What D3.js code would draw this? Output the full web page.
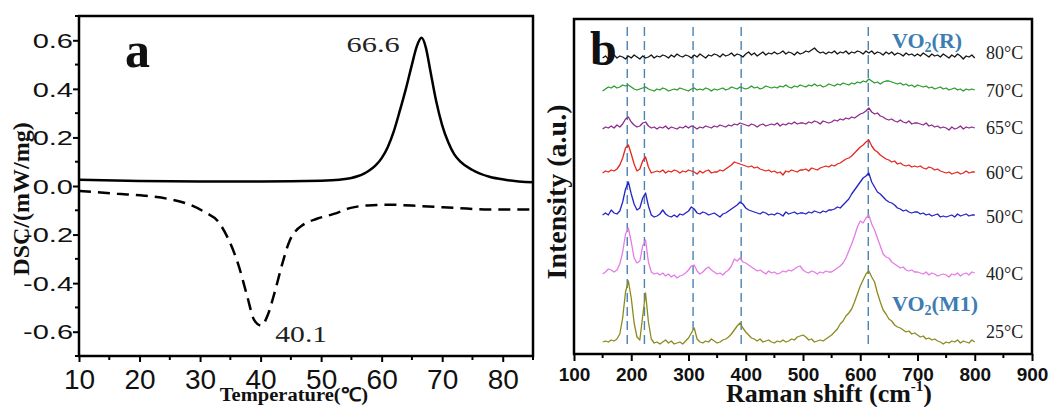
<!DOCTYPE html>
<html>
<head>
<meta charset="utf-8">
<script src="https://cdn.jsdelivr.net/npm/d3@7"></script>
<style>
  html, body { margin: 0; padding: 0; background: #fff; }
  svg { display: block; }
</style>
</head>
<body>
<div id="chart"></div>
<script>
// ---------- (a) DSC curves ----------
const heatingTemp = [10, 20, 30, 40, 50, 53, 55, 56, 57, 58, 59, 60, 61, 62, 63, 64, 65, 65.8, 66.6, 67.3, 68, 69, 70, 71, 72, 73, 75, 77.8, 80.6, 85];
const heatingDSC  = [0.026, 0.021, 0.019, 0.019, 0.022, 0.026, 0.033, 0.04, 0.05, 0.065, 0.085, 0.115, 0.16, 0.225, 0.31, 0.40, 0.50, 0.575, 0.61, 0.57, 0.48, 0.35, 0.25, 0.18, 0.13, 0.10, 0.066, 0.038, 0.025, 0.015];
const coolingTemp = [10, 16.3, 20.8, 24.7, 28, 30.8, 33.1, 34.7, 36.4, 37.8, 38.9, 40.1, 41.2, 42.3, 43.7, 44.8, 45.8, 47, 49.3, 52.1, 54.9, 57.7, 61, 66.6, 72.2, 77.8, 85];
const coolingDSC  = [-0.02, -0.032, -0.04, -0.053, -0.074, -0.108, -0.15, -0.22, -0.33, -0.455, -0.55, -0.575, -0.53, -0.44, -0.31, -0.225, -0.185, -0.16, -0.135, -0.115, -0.09, -0.08, -0.077, -0.083, -0.09, -0.097, -0.097];
const heatingPeak = { t: 66.6, v: 0.61 };
const coolingPeak = { t: 40.1, v: -0.575 };
const tempTicks = [10, 20, 30, 40, 50, 60, 70, 80];
const tempMinorTicks = [15, 25, 35, 45, 55, 65, 75, 85];
const dscTicks = [-0.6, -0.4, -0.2, 0.0, 0.2, 0.4, 0.6];
const dscMinorTicks = [-0.7, -0.5, -0.3, -0.1, 0.1, 0.3, 0.5, 0.7];

// ---------- (b) Raman spectra (stacked, a.u.), sampled every 5 cm-1 from 150 to 800 ----------
const ramanShift = d3.range(150, 801, 5);
const spectrum25 = [
  12, 13, 12, 14, 13, 15, 20, 36, 62, 73,
  56, 31, 17, 14, 38, 61, 32, 15, 11, 12,
  10, 12, 14, 11, 13, 10, 11, 12, 10, 13,
  16, 21, 26, 15, 12, 11, 13, 12, 15, 13,
  11, 12, 14, 15, 17, 20, 24, 28, 31, 26,
  22, 19, 16, 15, 13, 15, 12, 13, 14, 12,
  11, 13, 12, 14, 12, 13, 15, 14, 17, 18,
  19, 17, 14, 15, 12, 13, 14, 13, 15, 17,
  19, 22, 25, 30, 33, 38, 41, 45, 52, 60,
  68, 74, 80, 83, 77, 72, 61, 52, 44, 40,
  35, 33, 29, 27, 26, 24, 22, 23, 20, 21,
  19, 17, 18, 15, 16, 14, 15, 13, 12, 10,
  12, 11, 13, 12, 14, 11, 13, 12, 11, 14,
  12];
const spectrum40 = [
  80, 82, 85, 84, 82, 84, 90, 102, 120, 126,
  112, 96, 91, 93, 108, 114, 92, 82, 80, 81,
  79, 81, 78, 80, 77, 79, 76, 78, 79, 81,
  84, 88, 89, 83, 80, 82, 85, 87, 84, 82,
  80, 81, 79, 82, 84, 88, 95, 93, 96, 92,
  91, 89, 87, 85, 83, 84, 82, 80, 83, 81,
  82, 80, 81, 83, 82, 84, 83, 85, 87, 88,
  84, 82, 81, 83, 82, 80, 82, 81, 83, 82,
  82, 84, 86, 88, 91, 96, 103, 110, 118, 127,
  133, 131, 136, 139, 130, 124, 116, 108, 100, 97,
  96, 92, 90, 88, 86, 87, 84, 83, 84, 82,
  82, 81, 80, 82, 79, 81, 80, 78, 79, 80,
  79, 77, 80, 79, 81, 78, 80, 81, 79, 82,
  81];
const spectrum50 = [
  139, 141, 139, 144, 141, 140, 143, 152, 165, 172,
  160, 150, 144, 146, 156, 161, 148, 139, 137, 138,
  140, 144, 140, 138, 137, 139, 137, 140, 139, 141,
  143, 147, 145, 141, 140, 142, 141, 139, 140, 141,
  139, 137, 140, 141, 143, 145, 147, 149, 152, 150,
  146, 144, 143, 142, 141, 140, 142, 141, 139, 140,
  139, 141, 140, 138, 142, 140, 141, 142, 140, 141,
  141, 140, 142, 141, 143, 142, 141, 143, 142, 144,
  144, 145, 147, 146, 149, 152, 155, 160, 164, 168,
  172, 176, 178, 181, 172, 167, 162, 160, 157, 154,
  152, 151, 149, 146, 145, 143, 144, 142, 141, 142,
  142, 140, 141, 139, 140, 138, 139, 140, 137, 138,
  137, 138, 139, 137, 140, 138, 139, 140, 138, 139,
  139];
const spectrum60 = [
  181, 183, 182, 184, 183, 185, 189, 196, 206, 209,
  200, 190, 183, 185, 193, 197, 187, 181, 182, 183,
  182, 184, 181, 183, 182, 184, 183, 181, 183, 182,
  184, 183, 182, 180, 183, 181, 183, 184, 181, 182,
  182, 184, 183, 185, 187, 189, 192, 191, 190, 189,
  188, 187, 188, 186, 187, 185, 184, 183, 184, 182,
  183, 181, 182, 179, 183, 182, 184, 183, 182, 184,
  184, 185, 183, 186, 185, 184, 186, 187, 188, 187,
  189, 188, 190, 191, 193, 195, 196, 198, 201, 204,
  207, 209, 212, 214, 208, 204, 202, 199, 197, 195,
  194, 192, 193, 190, 191, 189, 188, 189, 187, 188,
  187, 188, 186, 185, 187, 186, 184, 185, 183, 182,
  181, 182, 180, 181, 182, 180, 181, 183, 181, 182,
  182];
const spectrum65 = [
  225, 227, 226, 228, 226, 229, 227, 230, 235, 237,
  232, 229, 227, 228, 231, 232, 228, 226, 227, 225,
  227, 226, 228, 225, 227, 226, 225, 227, 226, 228,
  226, 228, 227, 225, 227, 226, 228, 227, 226, 228,
  227, 229, 228, 227, 229, 228, 230, 229, 231, 230,
  229, 228, 230, 229, 227, 229, 230, 228, 229, 230,
  229, 231, 228, 230, 229, 231, 230, 232, 230, 231,
  231, 230, 232, 231, 233, 232, 230, 233, 232, 231,
  232, 234, 233, 235, 234, 236, 235, 237, 236, 238,
  240, 241, 243, 246, 242, 240, 241, 238, 237, 235,
  234, 235, 233, 232, 234, 232, 231, 233, 230, 231,
  231, 230, 229, 231, 228, 229, 227, 228, 226, 227,
  226, 224, 227, 225, 226, 228, 225, 227, 226, 227,
  226];
const spectrum70 = [
  263, 265, 267, 266, 268, 266, 267, 269, 268, 269,
  267, 265, 264, 265, 266, 267, 265, 264, 263, 265,
  264, 266, 265, 263, 264, 265, 264, 266, 265, 264,
  263, 265, 266, 264, 265, 264, 266, 265, 263, 265,
  264, 265, 266, 264, 265, 267, 266, 265, 267, 266,
  265, 266, 268, 266, 267, 265, 266, 268, 267, 266,
  267, 266, 268, 267, 269, 267, 266, 268, 267, 269,
  268, 267, 269, 268, 270, 268, 269, 267, 268, 270,
  269, 268, 270, 269, 271, 270, 269, 271, 270, 272,
  271, 273, 272, 275, 273, 271, 272, 270, 272, 273,
  273, 272, 271, 270, 271, 269, 270, 268, 269, 267,
  269, 268, 267, 268, 266, 267, 265, 266, 267, 265,
  266, 264, 265, 266, 264, 265, 263, 265, 264, 265,
  264];
const spectrum80 = [
  296, 298, 295, 297, 299, 296, 298, 297, 295, 298,
  296, 299, 297, 295, 298, 296, 297, 299, 296, 298,
  297, 299, 298, 296, 299, 297, 300, 298, 297, 299,
  298, 296, 299, 297, 300, 298, 296, 299, 298, 300,
  299, 297, 300, 298, 299, 301, 298, 300, 299, 297,
  300, 302, 299, 301, 298, 300, 302, 299, 301, 300,
  302, 300, 301, 303, 300, 302, 301, 299, 302, 300,
  301, 303, 302, 304, 306, 303, 301, 302, 300, 302,
  301, 303, 300, 302, 301, 303, 300, 302, 301, 303,
  302, 300, 303, 301, 303, 300, 302, 301, 299, 302,
  300, 302, 299, 301, 300, 298, 301, 299, 300, 298,
  300, 298, 301, 299, 297, 300, 298, 299, 297, 300,
  298, 296, 299, 297, 300, 298, 295, 298, 297, 299,
  296];
const spectrumLabels = ["80°C", "70°C", "65°C", "60°C", "50°C", "40°C", "25°C"];
const spectra = [spectrum80, spectrum70, spectrum65, spectrum60, spectrum50, spectrum40, spectrum25];
const peakPositions = [193, 223, 308, 392, 614];
const ramanTicks = [100, 200, 300, 400, 500, 600, 700, 800, 900];
const ramanMinorTicks = [150, 250, 350, 450, 550, 650, 750, 850];

// ---------- styling ----------
const spectrumColors = ["#161616", "#2a9a2a", "#8c2a8c", "#e5261f", "#2323c8", "#e47ce6", "#8c8a1c"];
const labelNudge = [1, 7, 6, 7, 8, 7, -4];
const sans = "'Liberation Sans', Arial, sans-serif";
const serif = "'Liberation Serif', 'Times New Roman', serif";
const blueNote = "#3d7db2";

const W = 1050, H = 407;
const svg = d3.select("#chart").append("svg").attr("width", W).attr("height", H);
svg.append("rect").attr("width", W).attr("height", H).attr("fill", "#fff");

// short unlabelled ticks between the major ones
function minorTicks(g, scale, values, orient, len) {
  g.selectAll(null).data(values).join("line")
    .attr("x1", d => orient === "bottom" ? scale(d) : 0)
    .attr("x2", d => orient === "bottom" ? scale(d) : -len)
    .attr("y1", d => orient === "bottom" ? 0 : scale(d))
    .attr("y2", d => orient === "bottom" ? len : scale(d))
    .attr("stroke", "#000").attr("stroke-width", 2);
}

// ======== panel (a) ========
const A = { left: 79, right: 533, top: 16, bottom: 356 };
const xT = d3.scaleLinear().domain([10, 85]).range([A.left, A.right]);
const yD = d3.scaleLinear().domain([-0.7, 0.7]).range([A.bottom, A.top]);
const gA = svg.append("g");

const dscLine = d3.line().x(d => xT(d[0])).y(d => yD(d[1])).curve(d3.curveMonotoneX);
gA.append("path")
  .attr("d", dscLine(heatingTemp.map((t, i) => [t, heatingDSC[i]])))
  .attr("fill", "none").attr("stroke", "#000").attr("stroke-width", 2.5);
gA.append("path")
  .attr("d", dscLine(coolingTemp.map((t, i) => [t, coolingDSC[i]])))
  .attr("fill", "none").attr("stroke", "#000").attr("stroke-width", 2.5)
  .attr("stroke-dasharray", "12,7");

// axes of (a)
const axA_x = gA.append("g").attr("transform", `translate(0,${A.bottom})`)
  .call(d3.axisBottom(xT).tickValues(tempTicks).tickSize(6).tickPadding(7).tickFormat(d3.format("d")));
axA_x.selectAll(".domain").remove();
axA_x.selectAll(".tick line").attr("stroke-width", 2);
axA_x.selectAll(".tick text").attr("font-family", sans).attr("font-size", 28).attr("fill", "#111");
minorTicks(axA_x, xT, tempMinorTicks, "bottom", 4);

const axA_y = gA.append("g").attr("transform", `translate(${A.left},0)`)
  .call(d3.axisLeft(yD).tickValues(dscTicks).tickSize(6).tickFormat(d => d3.format(".1f")(d).replace("−", "-")));
axA_y.selectAll(".domain").remove();
axA_y.selectAll(".tick line").attr("stroke-width", 2);
axA_y.selectAll(".tick text")
  .attr("font-family", sans).attr("font-size", 20).attr("fill", "#111")
  .attr("x", 0).attr("dy", "0.36em")
  .attr("text-anchor", "end")
  .attr("transform", "translate(-6,0) scale(1.45,1)");
minorTicks(axA_y, yD, dscMinorTicks, "left", 4);

gA.append("rect")
  .attr("x", A.left).attr("y", A.top)
  .attr("width", A.right - A.left).attr("height", A.bottom - A.top)
  .attr("fill", "none").attr("stroke", "#000").attr("stroke-width", 2.5);

// peak annotations
gA.append("text").text(heatingPeak.t.toFixed(1))
  .attr("font-family", serif).attr("font-size", 22).attr("fill", "#222")
  .attr("transform", `translate(${xT(heatingPeak.t) - 75},${yD(heatingPeak.v) + 14.5}) scale(1.38,1)`);
gA.append("text").text(coolingPeak.t.toFixed(1))
  .attr("font-family", serif).attr("font-size", 22.5).attr("fill", "#222")
  .attr("transform", `translate(${xT(coolingPeak.t) + 14},${yD(coolingPeak.v) + 16}) scale(1.32,1)`);

gA.append("text").text("a")
  .attr("x", 125).attr("y", 67)
  .attr("font-family", serif).attr("font-weight", "bold").attr("font-size", 50).attr("fill", "#111");

gA.append("text").text("DSC/(mW/mg)")
  .attr("transform", "translate(29,199) rotate(-90)")
  .attr("text-anchor", "middle")
  .attr("font-family", serif).attr("font-weight", "bold").attr("font-size", 24).attr("fill", "#111");

gA.append("text").text("Temperature(℃)")
  .attr("transform", "translate(294,401) scale(1.08,1)")
  .attr("text-anchor", "middle")
  .attr("font-family", serif).attr("font-weight", "bold").attr("font-size", 19).attr("fill", "#111");

// ======== panel (b) ========
const B = { left: 574, right: 1032, top: 19, bottom: 354 };
const xR = d3.scaleLinear().domain([100, 900]).range([B.left, B.right]);
const yI = d3.scaleLinear().domain([0, 335]).range([B.bottom, B.top]);
const gB = svg.append("g");

// reference peak positions
gB.selectAll("line.peak").data(peakPositions).join("line")
  .attr("class", "peak")
  .attr("x1", d => xR(d)).attr("x2", d => xR(d))
  .attr("y1", yI(327)).attr("y2", yI(6))
  .attr("stroke", "#4a82b2").attr("stroke-width", 1.4)
  .attr("stroke-dasharray", "9,5");

const specLine = d3.line().x((d, i) => xR(ramanShift[i])).y(d => yI(d));
gB.selectAll("path.spec").data(spectra).join("path")
  .attr("class", "spec")
  .attr("d", d => specLine(d))
  .attr("fill", "none")
  .attr("stroke", (d, i) => spectrumColors[i])
  .attr("stroke-width", 1.3)
  .attr("stroke-linejoin", "round");

gB.selectAll("text.temp").data(spectrumLabels).join("text")
  .attr("class", "temp")
  .text(d => d)
  .attr("x", 986)
  .attr("y", (d, i) => yI(spectra[i][spectra[i].length - 1]) + labelNudge[i])
  .attr("font-family", serif).attr("font-size", 18).attr("fill", "#222");

// axes of (b)
const axB_x = gB.append("g").attr("transform", `translate(0,${B.bottom})`)
  .call(d3.axisBottom(xR).tickValues(ramanTicks).tickSize(7).tickPadding(7).tickFormat(d3.format("d")));
axB_x.selectAll(".domain").remove();
axB_x.selectAll(".tick line").attr("stroke-width", 2);
axB_x.selectAll(".tick text").attr("font-family", sans).attr("font-weight", "bold")
  .attr("font-size", 19).attr("fill", "#111");
minorTicks(axB_x, xR, ramanMinorTicks, "bottom", 4);

gB.append("rect")
  .attr("x", B.left).attr("y", B.top)
  .attr("width", B.right - B.left).attr("height", B.bottom - B.top)
  .attr("fill", "none").attr("stroke", "#000").attr("stroke-width", 2.5);

gB.append("text").text("b")
  .attr("x", 590).attr("y", 65)
  .attr("font-family", serif).attr("font-weight", "bold").attr("font-size", 48).attr("fill", "#111");

function phaseLabel(y, phase) {
  const t = gB.append("text").attr("x", 892).attr("y", y)
    .attr("font-family", serif).attr("font-weight", "bold").attr("font-size", 22).attr("fill", blueNote);
  t.append("tspan").text("VO");
  t.append("tspan").text("2").attr("font-size", 14).attr("dy", 4);
  t.append("tspan").text("(" + phase + ")").attr("dy", -4);
}
phaseLabel(48, "R");
phaseLabel(311, "M1");

const ramanTitle = gB.append("text")
  .attr("x", 829).attr("y", 402).attr("text-anchor", "middle")
  .attr("font-family", serif).attr("font-weight", "bold").attr("font-size", 26).attr("fill", "#111");
ramanTitle.append("tspan").text("Raman shift (cm");
ramanTitle.append("tspan").text("-1").attr("font-size", 15).attr("dy", -11);
ramanTitle.append("tspan").text(")").attr("dy", 11);

gB.append("text").text("Intensity (a.u.)")
  .attr("transform", "translate(566,192) rotate(-90)")
  .attr("text-anchor", "middle")
  .attr("font-family", serif).attr("font-weight", "bold").attr("font-size", 28).attr("fill", "#111");
</script>
</body>
</html>
